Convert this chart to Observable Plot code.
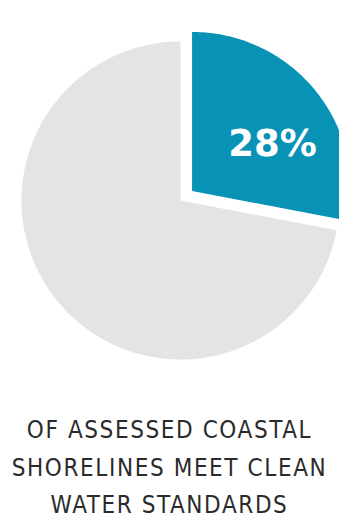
<!DOCTYPE html>
<html>
<head>
<meta charset="utf-8">
<script src="https://cdn.jsdelivr.net/npm/d3@7"></script>
<script src="https://cdn.jsdelivr.net/npm/@observablehq/plot@0.6"></script>
<style>
  html, body { margin: 0; padding: 0; background: #fff; overflow: hidden; }
  #chart { width: 339px; }
  #caption {
    font-family: "DejaVu Sans Condensed", "DejaVu Sans", sans-serif;
    font-stretch: condensed;
    font-size: 24px;
    line-height: 37.5px;
    color: #2b2b2b;
    text-align: center;
    width: 339px;
    margin-top: 40px;
    letter-spacing: 1.6px;
  }
</style>
</head>
<body>
<div id="chart"></div>
<div id="caption">OF ASSESSED COASTAL<br>SHORELINES MEET CLEAN<br>WATER STANDARDS</div>
<script>
// Data
const categories = ["Meet clean water standards", "Do not meet"];
const values = [28, 72];
const labels = ["28%", ""];
const colors = ["#0893b6", "#e3e4e6"];

// Geometry (pixel units)
const W = 339, H = 372;
const cx = 180, cy = 200, R = 159, explode = 15;

const pie = d3.pie().sort(null).value(d => d.value)(
  categories.map((c, i) => ({category: c, value: values[i], label: labels[i]}))
);

const outline = [];
const labelPts = [];
pie.forEach((s, i) => {
  const mid = (s.startAngle + s.endAngle) / 2;
  const off = i === 0 ? explode : 0;
  const ox = cx + off * Math.sin(mid), oy = cy - off * Math.cos(mid);
  outline.push({category: s.data.category, x: ox, y: oy});
  const n = Math.max(2, Math.ceil((s.endAngle - s.startAngle) * 60));
  for (let k = 0; k <= n; k++) {
    const a = s.startAngle + (s.endAngle - s.startAngle) * k / n;
    outline.push({category: s.data.category, x: ox + R * Math.sin(a), y: oy - R * Math.cos(a)});
  }
  if (s.data.label) {
    const la = mid + 0.16, lr = R * 0.587;
    labelPts.push({label: s.data.label, x: ox + lr * Math.sin(la), y: oy - lr * Math.cos(la)});
  }
});

const chart = Plot.plot({
  width: W,
  height: H,
  margin: 0,
  x: {domain: [0, W], range: [0, W], axis: null},
  y: {domain: [0, H], range: [0, H], axis: null},
  color: {domain: categories, range: colors},
  marks: [
    Plot.line(outline, {
      x: "x", y: "y", z: "category",
      fill: "category", stroke: "none",
      curve: "linear-closed"
    }),
    Plot.text(labelPts, {
      x: "x", y: "y", text: "label",
      fill: "white",
      fontSize: 37,
      fontWeight: "bold",
      fontFamily: "'DejaVu Sans', sans-serif"
    })
  ]
});
document.getElementById("chart").appendChild(chart);
</script>
</body>
</html>
